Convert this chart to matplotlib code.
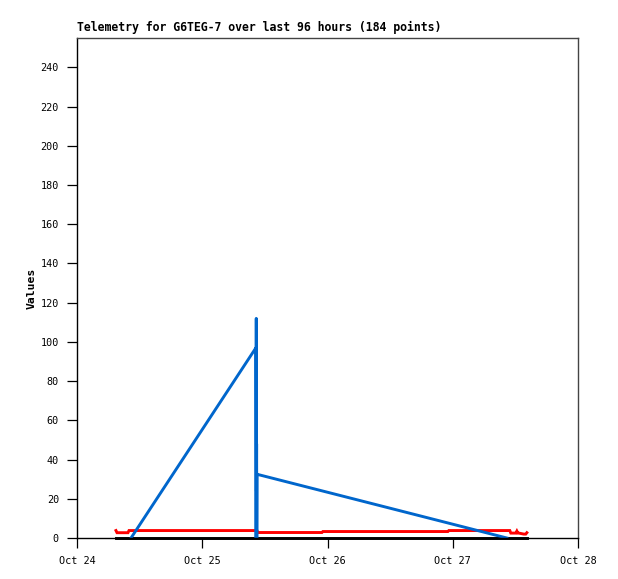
import matplotlib
matplotlib.use("Agg")
import matplotlib.pyplot as plt
import matplotlib.dates as mdates
import pandas as pd

title = "Telemetry for G6TEG-7 over last 96 hours (184 points)"
y_label = "Values"
y_ticks = [0, 20, 40, 60, 80, 100, 120, 140, 160, 180, 200, 220, 240]
x_ticks = ["2024-10-24", "2024-10-25", "2024-10-26", "2024-10-27", "2024-10-28"]

red_times = ["2024-10-24 07:28", "2024-10-24 07:40", "2024-10-24 09:46", "2024-10-24 09:58",
             "2024-10-25 10:29", "2024-10-25 10:40", "2024-10-25 22:56", "2024-10-25 23:07",
             "2024-10-26 23:04", "2024-10-26 23:15", "2024-10-27 10:56", "2024-10-27 11:08",
             "2024-10-27 12:05", "2024-10-27 12:17", "2024-10-27 12:28", "2024-10-27 12:40",
             "2024-10-27 13:36", "2024-10-27 13:59", "2024-10-27 14:12"]
red_values = [3.8, 2.7, 2.7, 3.8,
              3.8, 2.8, 2.8, 3.3,
              3.3, 3.8, 3.8, 2.5,
              2.5, 3.5, 2.5, 2.5,
              2.0, 2.0, 2.7]

black_times = ["2024-10-24 07:28", "2024-10-27 14:12"]
black_values = [0, 0]

blue_times = ["2024-10-24 10:21", "2024-10-25 10:17", "2024-10-25 10:19", "2024-10-25 10:21",
              "2024-10-25 10:23", "2024-10-25 10:25", "2024-10-25 10:27", "2024-10-25 10:30",
              "2024-10-27 10:22"]
blue_values = [0, 97, 0, 112, 24, 48, 0, 32.5, 0]

mono = "DejaVu Sans Mono"
fig = plt.figure(figsize=(6.18, 5.79), dpi=100)
ax = fig.add_axes([77/618, 1-538/579, (578-77)/618, (538-38)/579])

ax.plot(pd.to_datetime(red_times), red_values, color="#ff0000", lw=2.1, solid_joinstyle="miter")
ax.plot(pd.to_datetime(black_times), black_values, color="#000000", lw=2.1, clip_on=False)
ax.plot(pd.to_datetime(blue_times), blue_values, color="#0066cc", lw=2.1)

ax.set_xlim(pd.Timestamp(x_ticks[0]), pd.Timestamp(x_ticks[-1]))
ax.set_ylim(0, 255)
ax.set_yticks(y_ticks)
ax.set_xticks(pd.to_datetime(x_ticks))
ax.xaxis.set_major_formatter(mdates.DateFormatter("%b %d"))

for lab in ax.get_xticklabels() + ax.get_yticklabels():
    lab.set_family(mono)
    lab.set_fontsize(7.3)
ax.tick_params(axis="y", direction="out", length=7, width=0.9, pad=6, colors="#000000")
ax.tick_params(axis="x", direction="out", length=7, width=0.9, pad=6, colors="#000000")

for s in ["left", "bottom"]:
    ax.spines[s].set_color("#000000")
    ax.spines[s].set_linewidth(1.0)
for s in ["top", "right"]:
    ax.spines[s].set_color("#444444")
    ax.spines[s].set_linewidth(1.0)

ax.set_ylabel(y_label, family=mono, fontweight="bold", fontsize=8.2, labelpad=3)
fig.text(77/618, 1-31/579, title, family=mono, fontweight="bold", fontsize=8.3,
         ha="left", va="baseline")

fig.savefig("out.png", dpi=100, facecolor="white")
